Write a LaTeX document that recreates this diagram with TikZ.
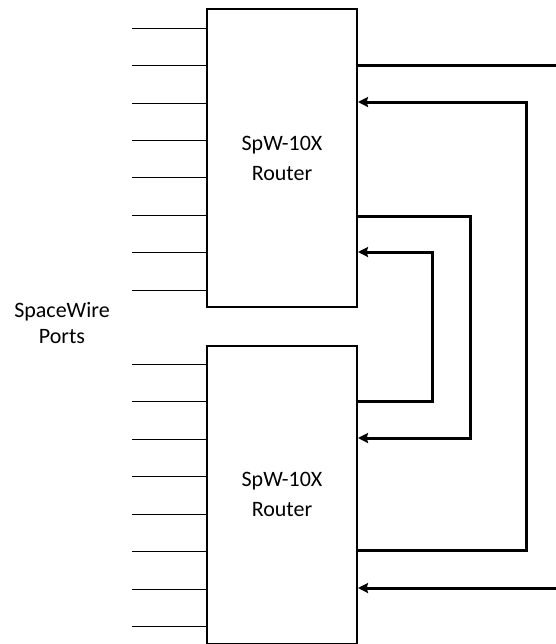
\documentclass[tikz,border=0pt]{standalone}
\usepackage{fontspec}
\setmainfont{Carlito}
\usetikzlibrary{arrows.meta}

\begin{document}
\begin{tikzpicture}[x=0.75pt, y=-0.75pt,
    router/.style={rectangle, draw, line width=1.5pt, minimum width=112.5pt, minimum height=223.5pt, align=center, inner sep=0pt, font=\fontsize{16.5}{22.5}\selectfont},
    note/.style={align=center, inner sep=0pt, font=\fontsize{16.5}{19.5}\selectfont},
    port/.style={line width=0.75pt},
    link/.style={line width=2.25pt},
    arrow/.style={link, -{Stealth[length=7.5pt,width=7.5pt,inset=1pt]}}
  ]
    \useasboundingbox (0,0) rectangle (556,644);

    \node[router] (top) at (282,158) {SpW-10X\\Router};
    \node[router] (bot) at (282,494.5) {SpW-10X\\Router};
    \node[note] (ports) at (62,323) {SpaceWire\\Ports};

    % ports on the left
    \foreach \y in {28,65,103,140,177,215,252,290} {
      \coordinate (p) at (132,\y);
      \draw[port] (p) -- (p -| top.west);
    }
    \foreach \y in {364,401,439,476,514,551,589,626} {
      \coordinate (p) at (132,\y);
      \draw[port] (p) -- (p -| bot.west);
    }

    % links between the routers
    \coordinate (outA) at (556,65);
    \coordinate (inB) at (556,588);
    \draw[link] (top.east |- outA) -- (outA);
    \draw[arrow] (inB) -- (bot.east |- inB);
    \draw[arrow] (bot.east |- 0,550) -| (526,102) -- (top.east |- 0,102);
    \draw[arrow] (top.east |- 0,216) -| (470,438) -- (bot.east |- 0,438);
    \draw[arrow] (bot.east |- 0,401) -| (432,252) -- (top.east |- 0,252);
  \end{tikzpicture}
\end{document}
